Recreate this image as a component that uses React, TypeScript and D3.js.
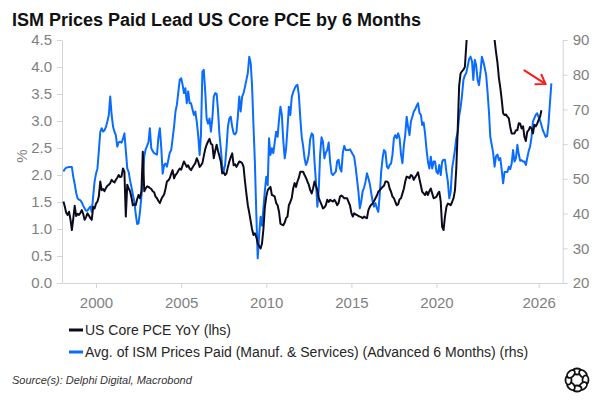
import React, { useEffect, useRef } from "react";
import * as d3 from "d3";

const WIDTH = 600;
const HEIGHT = 400;
const FONT = "'Liberation Sans', Arial, sans-serif";

const PCE_COLOR = "#0c0b1e";
const ISM_COLOR = "#0a6cff";
const AXIS_COLOR = "#d4d4d4";
const LABEL_COLOR = "#7f7f7f";

// US Core PCE YoY (%), monthly from Jan 1998, one row per year
const corePce: number[] = [
  1.51, 1.42, 1.30, 1.26, 1.32, 1.18, 0.98, 1.20, 1.43, 1.24, 1.28, 1.26,
  1.30, 1.35, 1.28, 1.17, 1.22, 1.29, 1.25, 1.20, 1.17, 1.41, 1.38, 1.47,
  1.51, 1.60, 1.88, 1.72, 1.74, 1.70, 1.76, 1.80, 1.82, 1.85, 1.91, 1.88,
  1.86, 1.91, 1.95, 2.00, 1.96, 1.97, 2.12, 2.06, 1.23, 1.82, 1.75, 1.70,
  1.58, 1.44, 1.46, 1.44, 1.55, 1.63, 1.57, 1.70, 2.43, 1.70, 1.75, 1.79,
  1.78, 1.76, 1.74, 1.70, 1.68, 1.60, 1.57, 1.52, 1.48, 1.55, 1.60, 1.64,
  1.75, 1.88, 1.90, 1.94, 2.02, 2.09, 1.94, 2.00, 2.03, 2.08, 2.12, 2.10,
  2.18, 2.25, 2.20, 2.15, 2.18, 2.12, 2.09, 2.14, 2.18, 2.22, 2.31, 2.25,
  2.15, 2.18, 2.22, 2.35, 2.48, 2.56, 2.62, 2.67, 2.58, 2.56, 2.31, 2.45,
  2.56, 2.45, 2.35, 2.25, 2.03, 2.05, 2.00, 2.03, 2.15, 2.25, 2.33, 2.40,
  2.18, 2.20, 2.15, 2.20, 2.25, 2.24, 2.22, 2.15, 1.88, 1.65, 1.44, 1.30,
  1.14, 1.00, 0.89, 0.92, 0.85, 0.74, 0.68, 0.64, 0.73, 1.00, 1.40, 1.60,
  1.72, 1.75, 1.78, 1.63, 1.62, 1.60, 1.48, 1.44, 1.32, 1.10, 1.08, 1.07,
  1.12, 1.20, 1.23, 1.44, 1.50, 1.57, 1.75, 1.85, 1.78, 1.88, 1.95, 2.06,
  2.06, 2.06, 2.00, 1.95, 1.88, 1.82, 1.72, 1.66, 1.75, 1.88, 1.80, 1.72,
  1.57, 1.51, 1.45, 1.38, 1.40, 1.44, 1.54, 1.50, 1.54, 1.52, 1.51, 1.54,
  1.50, 1.44, 1.48, 1.60, 1.62, 1.60, 1.57, 1.57, 1.57, 1.50, 1.44, 1.30,
  1.23, 1.29, 1.27, 1.26, 1.24, 1.23, 1.22, 1.20, 1.23, 1.21, 1.20, 1.35,
  1.41, 1.45, 1.47, 1.52, 1.57, 1.62, 1.69, 1.72, 1.75, 1.78, 1.80, 1.88,
  1.88, 1.86, 1.75, 1.69, 1.60, 1.57, 1.50, 1.44, 1.46, 1.55, 1.57, 1.66,
  1.75, 1.88, 1.97, 1.96, 1.94, 2.00, 1.98, 1.91, 1.96, 2.00, 2.05, 1.92,
  1.80, 1.69, 1.66, 1.63, 1.69, 1.63, 1.70, 1.75, 1.66, 1.57, 1.58, 1.60,
  1.66, 1.69, 1.51, 1.04, 0.98, 1.23, 1.41, 1.47, 1.46, 1.44, 1.50, 1.57,
  1.72, 2.12, 2.85, 3.65, 3.88, 3.92, 3.95, 4.00, 4.40, 4.80, 5.00, 5.20,
  5.30, 5.40, 5.30, 5.00, 5.00, 5.00, 4.70, 5.00, 5.20, 5.10, 4.90, 4.90,
  4.80, 4.80, 4.75, 4.70, 4.50, 4.28, 4.08, 3.80, 3.62, 3.39, 3.14, 3.11,
  3.12, 3.08, 3.05, 2.89, 2.77, 2.77, 2.77, 2.83, 2.83, 2.96, 2.95, 2.86,
  2.90, 2.71, 2.63, 2.80, 2.83, 2.89, 2.86, 2.77, 2.93, 2.90, 2.95, 3.02,
  3.08, 3.20,
];

// Avg. of ISM prices paid (manuf. & services), already shifted 6 months ahead, monthly from Jan 1998
const ismPricesPaid: number[] = [
  52.1, 52.8, 53.2, 53.3, 53.4, 53.4, 53.4, 50.5, 48.5, 46.0, 44.4, 44.0,
  43.8, 43.2, 42.3, 41.5, 40.8, 40.8, 41.5, 42.0, 40.5, 45.0, 49.2, 51.5,
  53.0, 58.0, 63.5, 64.6, 63.6, 64.0, 65.0, 66.5, 68.4, 73.7, 68.4, 65.0,
  63.5, 62.6, 59.3, 60.5, 60.7, 60.4, 61.5, 63.1, 58.3, 53.0, 52.0, 49.5,
  47.5, 45.5, 43.5, 40.0, 37.0, 37.2, 40.5, 45.0, 50.5, 56.5, 58.5, 59.5,
  60.7, 64.6, 58.8, 58.0, 57.4, 57.2, 57.0, 62.0, 64.6, 59.0, 51.5, 54.0,
  54.4, 53.5, 55.5, 57.5, 58.3, 61.5, 65.0, 69.4, 71.3, 75.0, 78.5, 79.0,
  77.1, 74.7, 76.1, 71.8, 75.2, 71.8, 71.8, 70.0, 68.4, 69.4, 66.5, 62.6,
  56.9, 62.6, 80.9, 81.4, 75.2, 67.4, 65.9, 67.4, 63.6, 67.4, 73.7, 74.7,
  74.5, 70.0, 63.0, 58.8, 53.5, 52.1, 54.0, 59.0, 65.0, 67.4, 67.9, 65.0,
  63.1, 62.8, 63.5, 68.0, 73.7, 69.4, 73.7, 74.7, 76.5, 78.5, 80.5, 85.2,
  83.3, 77.1, 65.5, 55.0, 40.0, 27.1, 33.8, 39.1, 36.5, 41.5, 46.5, 50.6,
  48.2, 61.7, 56.9, 58.8, 57.4, 60.5, 63.6, 62.1, 67.0, 70.8, 68.4, 61.0,
  55.9, 58.5, 64.5, 70.8, 68.4, 73.5, 75.0, 76.0, 76.8, 77.1, 74.2, 67.5,
  62.0, 59.5, 56.0, 54.0, 55.0, 57.0, 61.5, 63.1, 62.6, 55.0, 49.2, 42.0,
  47.0, 57.0, 62.0, 60.7, 55.9, 57.5, 58.3, 60.5, 55.0, 51.6, 51.1, 51.6,
  52.1, 55.0, 55.5, 53.0, 52.1, 57.5, 59.5, 58.3, 58.3, 58.3, 58.5, 57.8,
  57.0, 56.4, 53.5, 50.0, 46.3, 41.5, 43.5, 46.5, 47.5, 49.2, 51.6, 50.2,
  48.5, 46.0, 43.5, 42.0, 43.0, 41.5, 40.5, 45.5, 52.0, 56.0, 58.3, 57.8,
  53.5, 53.0, 54.0, 54.4, 57.0, 61.7, 62.6, 61.7, 63.1, 61.7, 57.0, 54.5,
  59.8, 62.6, 67.9, 65.0, 62.6, 66.5, 67.9, 69.4, 70.0, 71.0, 71.8, 69.0,
  68.4, 65.5, 66.2, 63.0, 58.5, 55.0, 53.0, 56.4, 53.0, 55.0, 55.0, 52.0,
  51.5, 54.0, 51.1, 55.0, 55.5, 55.5, 52.0, 49.2, 44.4, 46.3, 53.0, 55.6,
  58.5, 61.7, 63.5, 68.0, 70.5, 74.0, 78.5, 79.8, 80.5, 82.5, 84.5, 85.2,
  83.8, 78.5, 84.3, 82.8, 78.5, 77.0, 80.5, 85.2, 83.8, 82.0, 80.0, 75.0,
  69.0, 62.0, 59.8, 57.4, 53.5, 56.5, 57.0, 55.4, 56.0, 52.5, 48.7, 52.0,
  52.0, 52.0, 53.5, 52.8, 54.4, 58.3, 55.0, 56.0, 59.8, 57.0, 55.2, 55.4,
  55.0, 55.0, 54.0, 56.0, 58.0, 59.3, 62.0, 66.5, 67.5, 68.4, 68.9, 67.8,
  66.8, 65.5, 64.0, 63.1, 62.1, 62.3, 66.0, 72.0, 77.5,
];

const yearTicks = [2000, 2005, 2010, 2015, 2020, 2026];
const lhsTicks = [0, 0.5, 1, 1.5, 2, 2.5, 3, 3.5, 4, 4.5];
const rhsTicks = [20, 30, 40, 50, 60, 70, 80, 90];

const legendItems = [
  { label: "US Core PCE YoY (lhs)", color: PCE_COLOR },
  {
    label: "Avg. of ISM Prices Paid (Manuf. & Services) (Advanced 6 Months) (rhs)",
    color: ISM_COLOR,
  },
];

// monthly values are stamped at the end of their month
const monthEnd = (i: number) => new Date(1998, i + 1, 1);

const App: React.FC = () => {
  const svgRef = useRef<SVGSVGElement | null>(null);

  useEffect(() => {
    if (!svgRef.current) return;
    const svg = d3.select(svgRef.current);
    svg.selectAll("*").remove();

    const plot = { left: 62, right: 562.7, top: 40, bottom: 283 };

    const x = d3
      .scaleTime()
      .domain([new Date(1998, 0, 1), new Date(2027, 5, 1)])
      .range([plot.left, plot.right]);
    const yL = d3.scaleLinear().domain([0, 4.5]).range([plot.bottom, plot.top]);
    const yR = d3.scaleLinear().domain([20, 90]).range([plot.bottom, plot.top]);

    svg
      .append("text")
      .attr("x", 12)
      .attr("y", 26)
      .attr("font-size", 18)
      .attr("font-weight", "bold")
      .attr("fill", "#111")
      .text("ISM Prices Paid Lead US Core PCE by 6 Months");

    const styleAxis = (g: any) => {
      g.select(".domain").attr("stroke", AXIS_COLOR);
      g.selectAll(".tick line").attr("stroke", AXIS_COLOR);
      g.selectAll(".tick text")
        .attr("fill", LABEL_COLOR)
        .attr("font-size", 15)
        .attr("font-family", FONT);
    };

    svg
      .append("g")
      .attr("transform", `translate(${plot.left},0)`)
      .call(
        d3
          .axisLeft(yL)
          .tickValues(lhsTicks)
          .tickFormat(d3.format(".1f"))
          .tickSizeInner(5)
          .tickSizeOuter(0)
          .tickPadding(5),
      )
      .call(styleAxis);

    svg
      .append("g")
      .attr("transform", `translate(${plot.right},0)`)
      .call(
        d3
          .axisRight(yR)
          .tickValues(rhsTicks)
          .tickSizeInner(5)
          .tickSizeOuter(0)
          .tickPadding(5),
      )
      .call(styleAxis);

    svg
      .append("g")
      .attr("transform", `translate(0,${plot.bottom})`)
      .call(
        d3
          .axisBottom(x)
          .tickValues(yearTicks.map((yr) => new Date(yr, 0, 1)))
          .tickFormat(d3.timeFormat("%Y") as any)
          .tickSizeInner(5)
          .tickSizeOuter(0)
          .tickPadding(9),
      )
      .call(styleAxis);

    svg
      .append("text")
      .attr("transform", `translate(21,156) rotate(-90)`)
      .attr("text-anchor", "middle")
      .attr("dominant-baseline", "central")
      .attr("font-size", 15)
      .attr("fill", LABEL_COLOR)
      .text("%");

    svg
      .append("clipPath")
      .attr("id", "plot-clip")
      .append("rect")
      .attr("x", plot.left)
      .attr("y", plot.top)
      .attr("width", plot.right - plot.left)
      .attr("height", plot.bottom - plot.top);

    const lines = svg.append("g").attr("clip-path", "url(#plot-clip)");

    const ismLine = d3
      .line<number>()
      .x((_, i) => x(monthEnd(i)))
      .y((d) => yR(d));
    const pceLine = d3
      .line<number>()
      .x((_, i) => x(monthEnd(i)))
      .y((d) => yL(d));

    lines
      .append("path")
      .datum(ismPricesPaid)
      .attr("d", ismLine)
      .attr("fill", "none")
      .attr("stroke", ISM_COLOR)
      .attr("stroke-width", 2)
      .attr("stroke-linejoin", "round");

    lines
      .append("path")
      .datum(corePce)
      .attr("d", pceLine)
      .attr("fill", "none")
      .attr("stroke", PCE_COLOR)
      .attr("stroke-width", 2)
      .attr("stroke-linejoin", "round");

    // red arrow pointing at the latest ISM reading
    const lastIdx = ismPricesPaid.length - 1;
    const tipX = x(monthEnd(lastIdx)) - 6;
    const tipY = yR(ismPricesPaid[lastIdx]) + 0.5;
    const ang = Math.atan2(13.5, 21);
    const head = 10;
    const arrow = svg
      .append("g")
      .attr("stroke", "#ff1a1a")
      .attr("stroke-width", 2)
      .attr("fill", "none")
      .attr("stroke-linecap", "round");
    arrow
      .append("line")
      .attr("x1", tipX - 21)
      .attr("y1", tipY - 13.5)
      .attr("x2", tipX)
      .attr("y2", tipY);
    arrow
      .append("path")
      .attr(
        "d",
        `M${tipX - head * Math.cos(ang - 0.6)},${tipY - head * Math.sin(ang - 0.6)}` +
          `L${tipX},${tipY}` +
          `L${tipX - head * Math.cos(ang + 0.6)},${tipY - head * Math.sin(ang + 0.6)}`,
      );

    const legend = svg
      .append("g")
      .selectAll("g")
      .data(legendItems)
      .join("g")
      .attr("transform", (_, i) => `translate(69,${330 + i * 22})`);
    legend
      .append("line")
      .attr("x1", 0)
      .attr("x2", 14)
      .attr("stroke", (d) => d.color)
      .attr("stroke-width", 3);
    legend
      .append("text")
      .attr("x", 16)
      .attr("dominant-baseline", "central")
      .attr("font-size", 14)
      .attr("fill", "#262626")
      .text((d) => d.label);

    svg
      .append("text")
      .attr("x", 12)
      .attr("y", 384)
      .attr("font-size", 11)
      .attr("font-style", "italic")
      .attr("fill", "#333")
      .text("Source(s): Delphi Digital, Macrobond");

    // ring logo in the bottom-right corner
    const logo = svg.append("g").attr("transform", "translate(577,380)");
    d3.range(8).forEach((k) => {
      const a = (k / 8) * 360;
      logo
        .append("ellipse")
        .attr("transform", `rotate(${a}) translate(0,-8.5)`)
        .attr("rx", 4.6)
        .attr("ry", 3)
        .attr("fill", "#fff")
        .attr("stroke", "#111")
        .attr("stroke-width", 1.8);
    });
  }, []);

  return (
    <div style={{ position: "absolute", left: 0, top: 0, width: WIDTH, height: HEIGHT, background: "#fff" }}>
      <svg
        ref={svgRef}
        width={WIDTH}
        height={HEIGHT}
        style={{ display: "block", fontFamily: FONT }}
      />
    </div>
  );
};

export default App;
